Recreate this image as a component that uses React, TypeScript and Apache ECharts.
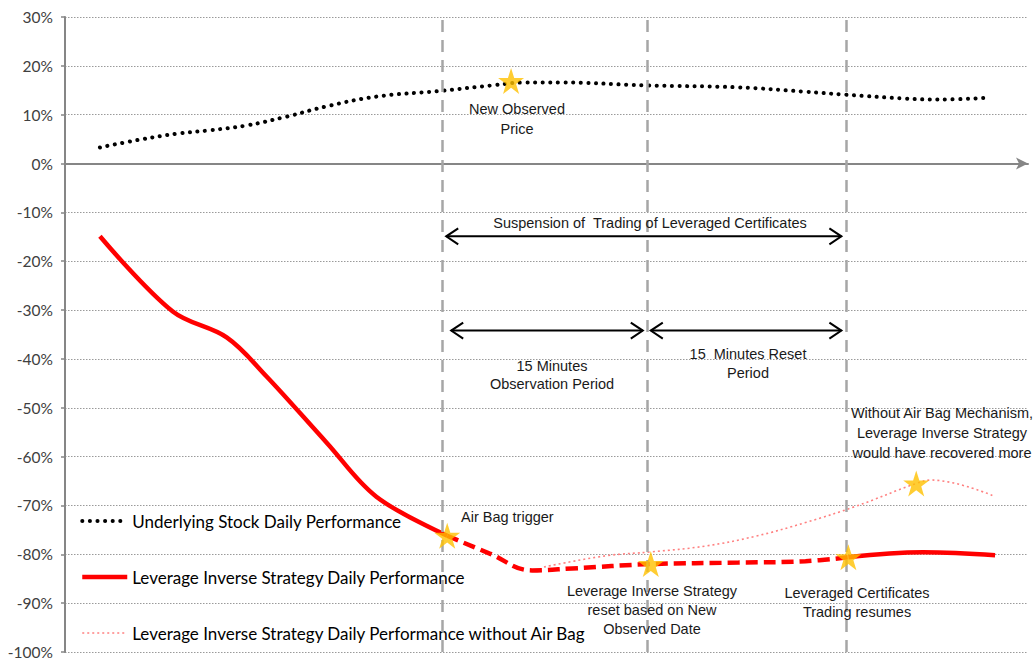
import React, { useEffect, useRef } from "react";
import * as echarts from "echarts";

// x: elapsed time units along the session, y: daily performance in %
const underlyingX = [35, 75, 112, 145, 182, 222, 262, 312, 378, 428, 462, 495, 582, 675, 742, 782, 842, 875, 927];
const underlyingY = [3.3, 4.9, 6.1, 6.8, 7.8, 9.6, 11.7, 13.7, 14.9, 16.0, 16.6, 16.6, 16.0, 15.6, 14.7, 14.1, 13.3, 13.1, 13.5];

const strategyBeforeX = [35, 108, 162, 202, 262, 312, 383];
const strategyBeforeY = [-14.9, -30.3, -35.6, -43.6, -57.1, -68.2, -76.2];

const strategySuspendedX = [383, 425, 468, 508, 587, 675, 742, 785];
const strategySuspendedY = [-76.2, -79.8, -83.3, -82.9, -82.0, -81.7, -81.4, -80.6];

const strategyAfterX = [785, 860, 932];
const strategyAfterY = [-80.6, -79.6, -80.2];

const noAirBagX = [480, 542, 588, 642, 692, 742, 792, 853, 868, 930];
const noAirBagY = [-82.6, -80.3, -79.5, -78.3, -76.3, -73.5, -70.2, -65.5, -64.8, -68.0];

const starX = [447, 383, 587, 785, 853];
const starY = [16.9, -76.2, -82.0, -80.6, -65.5];

const eventX = [378, 583, 783];

// [start, end, level]
const periodArrows = [
  [382, 778, -14.9],
  [387, 579, -34.2],
  [587, 778, -34.2],
];

const yMin = -100;
const yMax = 30;
const yStep = 10;
const xMax = 965;

const seriesNames = [
  "Underlying Stock Daily Performance",
  "Leverage Inverse Strategy Daily Performance",
  "Leverage Inverse Strategy Daily Performance without Air Bag",
];

const zip = (xs: number[], ys: number[]) => xs.map((x, i) => [x, ys[i]]);

const STAR =
  "path://M50,0 L61.8,35.1 L98.9,35.1 L68.9,56.8 L80.2,91.9 L50,70.2 L19.8,91.9 L31.1,56.8 L1.1,35.1 L38.2,35.1 Z";

const annoFont = "14.5px 'Liberation Sans', Arial, sans-serif";
const annoColor = "#1a1a1a";

function note(text: string, x: number, y: number, lineHeight: number, align: string = "center") {
  return {
    type: "text",
    x,
    y,
    z: 20,
    style: {
      text,
      font: annoFont,
      fill: annoColor,
      align,
      verticalAlign: "middle",
      lineHeight,
    },
  };
}

const hiddenSymbol = { opacity: 0, color: "rgba(0,0,0,0)", borderWidth: 0 };

export default function App() {
  const ref = useRef<HTMLDivElement>(null);

  useEffect(() => {
    if (!ref.current) return;
    const chart = echarts.init(ref.current, undefined, { renderer: "svg" });

    const option: any = {
      animation: false,
      backgroundColor: "#ffffff",
      grid: { left: 65, right: 7, top: 17, bottom: 10, containLabel: false },
      xAxis: {
        type: "value",
        min: 0,
        max: xMax,
        axisLine: {
          show: true,
          onZero: true,
          symbol: ["none", "arrow"],
          symbolSize: [9, 12],
          lineStyle: { color: "#868686", width: 2 },
        },
        axisTick: { show: false },
        axisLabel: { show: false },
        splitLine: { show: false },
      },
      yAxis: {
        type: "value",
        min: yMin,
        max: yMax,
        interval: yStep,
        axisLine: { show: true, onZero: false, lineStyle: { color: "#868686", width: 2 } },
        axisTick: { show: true, length: 4, lineStyle: { color: "#868686", width: 1.5 } },
        axisLabel: {
          formatter: "{value}%",
          fontFamily: "Lato, 'Noto Sans', sans-serif",
          fontSize: 15.5,
          color: "#404040",
          margin: 12,
        },
        splitLine: { show: true, lineStyle: { color: "#9a9a9a", width: 1, type: [1.5, 1.5] } },
      },
      legend: {
        orient: "vertical",
        left: 80,
        top: 511,
        padding: 0,
        itemWidth: 45,
        itemHeight: 20,
        itemGap: 36,
        selectedMode: false,
        textStyle: {
          fontFamily: "Lato, 'Noto Sans', sans-serif",
          fontSize: 17,
          color: "#000",
          lineHeight: 20,
        },
        data: [
          {
            name: seriesNames[0],
            itemStyle: hiddenSymbol,
            lineStyle: { width: 4, type: [0.1, 7.5], cap: "round", color: "#000" },
          },
          {
            name: seriesNames[1],
            itemStyle: hiddenSymbol,
            lineStyle: { width: 4.5, type: "solid", color: "#ff0000" },
          },
          {
            name: seriesNames[2],
            itemStyle: hiddenSymbol,
            lineStyle: { width: 1.6, type: [2, 3], color: "#ff8080" },
          },
        ],
      },
      series: [
        {
          name: "events",
          type: "line",
          data: [],
          silent: true,
          z: 1,
          markLine: {
            silent: true,
            symbol: ["none", "none"],
            label: { show: false },
            lineStyle: { color: "#a6a6a6", width: 2.5, type: [12, 8] },
            data: eventX.map((x) => ({ xAxis: x })),
          },
        },
        {
          name: seriesNames[0],
          type: "line",
          data: zip(underlyingX, underlyingY),
          smooth: 0.4,
          symbol: "none",
          z: 3,
          lineStyle: { color: "#000", width: 4, type: [0.1, 7.5], cap: "round" },
          itemStyle: { color: "#000" },
        },
        {
          name: seriesNames[1],
          type: "line",
          data: zip(strategyBeforeX, strategyBeforeY),
          smooth: 0.35,
          symbol: "none",
          z: 4,
          lineStyle: { color: "#ff0000", width: 4.5 },
          itemStyle: { color: "#ff0000" },
        },
        {
          name: "suspended",
          type: "line",
          data: zip(strategySuspendedX, strategySuspendedY),
          smooth: 0.4,
          symbol: "none",
          z: 4,
          lineStyle: { color: "#ff0000", width: 4.5, type: [12, 6] },
        },
        {
          name: seriesNames[1],
          type: "line",
          data: zip(strategyAfterX, strategyAfterY),
          smooth: 0.4,
          symbol: "none",
          z: 4,
          lineStyle: { color: "#ff0000", width: 4.5 },
          itemStyle: { color: "#ff0000" },
        },
        {
          name: seriesNames[2],
          type: "line",
          data: zip(noAirBagX, noAirBagY),
          smooth: 0.4,
          symbol: "none",
          z: 3,
          lineStyle: { color: "#ff8080", width: 1.6, type: [2, 3] },
          itemStyle: { color: "#ff8080" },
        },
        {
          name: "arrows",
          type: "custom",
          z: 5,
          silent: true,
          clip: false,
          encode: { x: [0, 1], y: 2 },
          data: periodArrows,
          renderItem: (params: any, api: any) => {
            const y = api.value(2);
            const a = api.coord([api.value(0), y]);
            const b = api.coord([api.value(1), y]);
            const hl = 12;
            const hh = 8;
            const st = { stroke: "#000", lineWidth: 2, fill: "none" };
            return {
              type: "group",
              children: [
                { type: "line", shape: { x1: a[0], y1: a[1], x2: b[0], y2: b[1] }, style: st },
                {
                  type: "polyline",
                  shape: { points: [[a[0] + hl, a[1] - hh], [a[0], a[1]], [a[0] + hl, a[1] + hh]] },
                  style: st,
                },
                {
                  type: "polyline",
                  shape: { points: [[b[0] - hl, b[1] - hh], [b[0], b[1]], [b[0] - hl, b[1] + hh]] },
                  style: st,
                },
              ],
            };
          },
        },
        {
          name: "stars",
          type: "scatter",
          data: zip(starX, starY),
          symbol: STAR,
          symbolSize: 26,
          z: 10,
          silent: true,
          itemStyle: { color: "#ffc000" },
        },
      ],
      graphic: [
        note("New Observed\nPrice", 517, 119, 20),
        note("Air Bag trigger", 461, 517, 18, "left"),
        note("Suspension of  Trading of Leveraged Certificates", 650, 223, 18),
        note("15 Minutes\nObservation Period", 552, 375, 18),
        note("15  Minutes Reset\nPeriod", 748, 363, 19),
        note("Leverage Inverse Strategy\nreset based on New\nObserved Date", 652, 610, 19),
        note("Leveraged Certificates\nTrading resumes", 857, 602, 19),
        note("Without Air Bag Mechanism,\nLeverage Inverse Strategy\nwould have recovered more", 942, 433, 20),
      ],
    };

    chart.setOption(option);
    return () => chart.dispose();
  }, []);

  return (
    <div
      ref={ref}
      style={{ position: "absolute", left: 0, top: 0, width: 1035, height: 662, background: "#fff" }}
    />
  );
}
